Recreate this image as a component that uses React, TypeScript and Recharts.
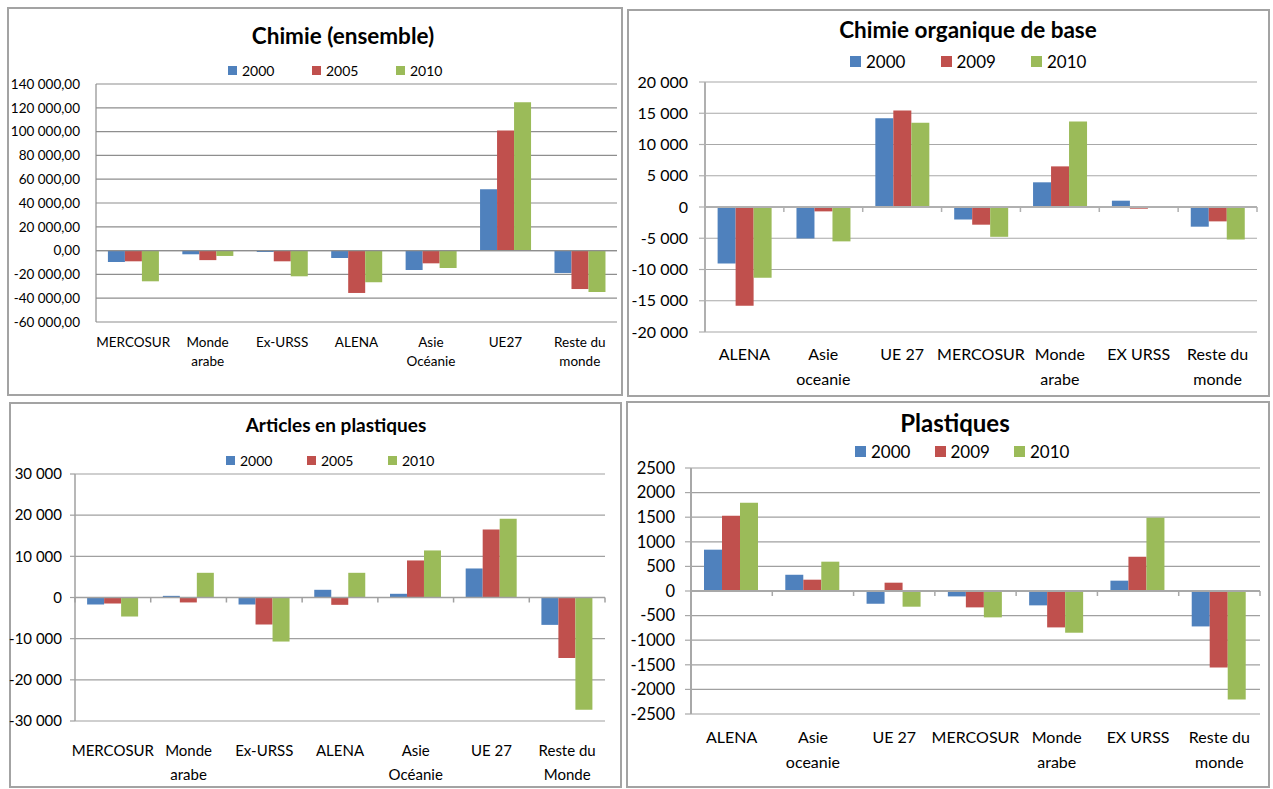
import React from 'react'
import { BarChart, Bar, XAxis, YAxis, CartesianGrid, ReferenceLine } from 'recharts'

const BLUE = '#4F81BD'
const RED = '#C0504D'
const GREEN = '#9BBB59'
const FONT = 'Lato, "Open Sans", sans-serif'

// Chimie (ensemble)
const chimieCats = ['MERCOSUR', 'Monde\narabe', 'Ex-URSS', 'ALENA', 'Asie\nOcéanie', 'UE27', 'Reste du\nmonde']
const chimieYears = ['2000', '2005', '2010']
const chimie2000 = [-9600, -3100, -1200, -6200, -16300, 51500, -18800]
const chimie2005 = [-9000, -8000, -9000, -35600, -10700, 101000, -32300]
const chimie2010 = [-25800, -4500, -21600, -26600, -14600, 124600, -34800]
const chimieTicks = [-60000, -40000, -20000, 0, 20000, 40000, 60000, 80000, 100000, 120000, 140000]

// Chimie organique de base
const orgaCats = ['ALENA', 'Asie\noceanie', 'UE 27', 'MERCOSUR', 'Monde\narabe', 'EX URSS', 'Reste du\nmonde']
const orgaYears = ['2000', '2009', '2010']
const orga2000 = [-9050, -5030, 14200, -2000, 3950, 1010, -3150]
const orga2009 = [-15800, -700, 15450, -2830, 6500, -270, -2300]
const orga2010 = [-11300, -5500, 13500, -4770, 13700, 20, -5200]
const orgaTicks = [-20000, -15000, -10000, -5000, 0, 5000, 10000, 15000, 20000]

// Articles en plastiques
const articlesCats = ['MERCOSUR', 'Monde\narabe', 'Ex-URSS', 'ALENA', 'Asie\nOcéanie', 'UE 27', 'Reste du\nMonde']
const articlesYears = ['2000', '2005', '2010']
const articles2000 = [-1700, 400, -1700, 1870, 900, 7050, -6650]
const articles2005 = [-1460, -1200, -6570, -1780, 9000, 16540, -14670]
const articles2010 = [-4620, 6000, -10700, 6000, 11430, 19130, -27240]
const articlesTicks = [-30000, -20000, -10000, 0, 10000, 20000, 30000]

// Plastiques
const plastCats = ['ALENA', 'Asie\noceanie', 'UE 27', 'MERCOSUR', 'Monde\narabe', 'EX URSS', 'Reste du\nmonde']
const plastYears = ['2000', '2009', '2010']
const plast2000 = [840, 330, -258, -110, -292, 210, -720]
const plast2009 = [1531, 230, 169, -333, -740, 698, -1553]
const plast2010 = [1795, 596, -319, -536, -848, 1490, -2204]
const plastTicks = [-2500, -2000, -1500, -1000, -500, 0, 500, 1000, 1500, 2000, 2500]

const group = (v: number) => {
  const s = String(Math.abs(v)).replace(/\B(?=(\d{3})+(?!\d))/g, ' ')
  return (v < 0 ? '-' : '') + s
}
const fmtDecimals = (v: number) => group(v) + ',00'
const fmtPlain = (v: number) => String(v)

const buildRows = (cats: string[], a: number[], b: number[], c: number[]) =>
  cats.map((name, i) => ({ name, s0: a[i], s1: b[i], s2: c[i] }))

function CatTick(props: any) {
  const { x, y, payload, fontSize, lineHeight, dy } = props
  const lines = String(payload.value).split('\n')
  return (
    <text x={x} y={y} textAnchor="middle" fontSize={fontSize} fontFamily={FONT} fill="#000">
      {lines.map((l, i) => (
        <tspan key={i} x={x} dy={i === 0 ? dy : lineHeight}>{l}</tspan>
      ))}
    </text>
  )
}

function ZeroTicks(props: any) {
  const { viewBox, count, len, color } = props
  if (!viewBox) return null
  const { x, y, width } = viewBox
  const step = width / count
  return (
    <g>
      {Array.from({ length: count + 1 }, (_, i) => (
        <line key={i} x1={x + i * step} x2={x + i * step} y1={y} y2={y + len} stroke={color} strokeWidth={1.5} />
      ))}
    </g>
  )
}

interface PanelProps {
  box: { left: number; top: number; width: number; height: number }
  title: string
  titleSize: number
  titleX: number
  titleY: number
  legendLeft: number
  legendY: number
  legendStep: number
  legendFont: number
  swatch: number
  years: string[]
  rows: any[]
  ticks: number[]
  fmt: (v: number) => string
  margin: { top: number; right: number; left: number; bottom: number }
  yWidth: number
  xHeight: number
  yTickSize: number
  yTickMargin: number
  yTickLine: boolean
  tickFont: number
  catFont: number
  catLine: number
  catDy: number
  gridColor: string
  axisColor: string
  axisWidth: number
  zeroTicks: boolean
}

function Panel(p: PanelProps) {
  const colors = [BLUE, RED, GREEN]
  return (
    <div
      style={{
        position: 'absolute',
        left: p.box.left,
        top: p.box.top,
        width: p.box.width,
        height: p.box.height,
        boxSizing: 'border-box',
        border: '2px solid #a3a3a3',
        background: '#fff',
      }}
    >
      <div style={{ position: 'absolute', left: -2, top: -2 }}>
        <BarChart
          width={p.box.width}
          height={p.box.height}
          data={p.rows}
          margin={p.margin}
          barCategoryGap="16%"
          barGap={0}
        >
          <CartesianGrid vertical={false} stroke={p.gridColor} strokeWidth={1.2} />
          <XAxis
            dataKey="name"
            interval={0}
            height={p.xHeight}
            axisLine={false}
            tickLine={false}
            tickSize={0}
            tickMargin={0}
            tick={(t: any) => <CatTick {...t} fontSize={p.catFont} lineHeight={p.catLine} dy={p.catDy} />}
          />
          <YAxis
            width={p.yWidth}
            domain={[p.ticks[0], p.ticks[p.ticks.length - 1]]}
            ticks={p.ticks}
            interval={0}
            tickFormatter={p.fmt}
            axisLine={{ stroke: p.axisColor, strokeWidth: p.axisWidth }}
            tickLine={p.yTickLine ? { stroke: p.axisColor, strokeWidth: 1.2 } : false}
            tickSize={p.yTickSize}
            tickMargin={p.yTickMargin}
            tick={{ fontSize: p.tickFont, fill: '#000', fontFamily: FONT }}
          />
          <ReferenceLine
            y={0}
            stroke={p.zeroTicks ? p.axisColor : p.gridColor}
            strokeWidth={p.zeroTicks ? p.axisWidth : 1.2}
            label={p.zeroTicks ? <ZeroTicks count={p.rows.length} len={5} color={p.axisColor} /> : undefined}
          />
          {p.years.map((y, i) => (
            <Bar key={y} dataKey={`s${i}`} name={y} fill={colors[i]} isAnimationActive={false} />
          ))}
        </BarChart>
      </div>
      <div
        style={{
          position: 'absolute',
          left: p.titleX - 200 - 2,
          top: p.titleY - 2,
          width: 400,
          textAlign: 'center',
          fontFamily: FONT,
          fontWeight: 700,
          fontSize: p.titleSize,
          lineHeight: '0px',
          color: '#000',
        }}
      >
        {p.title}
      </div>
      {p.years.map((y, i) => (
        <div
          key={y}
          style={{
            position: 'absolute',
            left: p.legendLeft - 2 + i * p.legendStep,
            top: p.legendY - 2 - p.swatch / 2,
            height: p.swatch,
            display: 'flex',
            alignItems: 'center',
            fontFamily: FONT,
            fontSize: p.legendFont,
            color: '#000',
            whiteSpace: 'nowrap',
          }}
        >
          <span style={{ display: 'inline-block', width: p.swatch, height: p.swatch, background: colors[i], marginRight: 5 }} />
          <span>{y}</span>
        </div>
      ))}
    </div>
  )
}

export default function App() {
  return (
    <div style={{ position: 'absolute', left: 0, top: 0, width: 1273, height: 789, background: '#fff', overflow: 'hidden' }}>
      <Panel
        box={{ left: 7, top: 7, width: 616, height: 389 }}
        title="Chimie (ensemble)"
        titleSize={22.5}
        titleX={336}
        titleY={29}
        legendLeft={221}
        legendY={63}
        legendStep={84}
        legendFont={14}
        swatch={9}
        years={chimieYears}
        rows={buildRows(chimieCats, chimie2000, chimie2005, chimie2010)}
        ticks={chimieTicks}
        fmt={fmtDecimals}
        margin={{ top: 77, right: 6, left: 0, bottom: 0 }}
        yWidth={89}
        xHeight={74}
        yTickSize={6}
        yTickMargin={10}
        yTickLine={false}
        tickFont={13.5}
        catFont={13.5}
        catLine={19}
        catDy={25}
        gridColor="#8e8e8e"
        axisColor="#8e8e8e"
        axisWidth={1.2}
        zeroTicks={false}
      />
      <Panel
        box={{ left: 627, top: 9, width: 643, height: 388 }}
        title="Chimie organique de base"
        titleSize={22.5}
        titleX={341}
        titleY={21}
        legendLeft={223}
        legendY={52}
        legendStep={90.5}
        legendFont={17}
        swatch={11}
        years={orgaYears}
        rows={buildRows(orgaCats, orga2000, orga2009, orga2010)}
        ticks={orgaTicks}
        fmt={group}
        margin={{ top: 73, right: 13, left: 0, bottom: 0 }}
        yWidth={78}
        xHeight={65}
        yTickSize={6}
        yTickMargin={11}
        yTickLine={true}
        tickFont={16}
        catFont={16}
        catLine={25}
        catDy={28}
        gridColor="#a8a8a8"
        axisColor="#b0b0b0"
        axisWidth={2}
        zeroTicks={true}
      />
      <Panel
        box={{ left: 9, top: 402, width: 613, height: 386 }}
        title="Articles en plastiques"
        titleSize={19}
        titleX={327}
        titleY={23}
        legendLeft={217}
        legendY={58}
        legendStep={81}
        legendFont={14}
        swatch={9}
        years={articlesYears}
        rows={buildRows(articlesCats, articles2000, articles2005, articles2010)}
        ticks={articlesTicks}
        fmt={group}
        margin={{ top: 72, right: 17, left: 0, bottom: 0 }}
        yWidth={66}
        xHeight={67}
        yTickSize={5}
        yTickMargin={8}
        yTickLine={true}
        tickFont={15}
        catFont={15}
        catLine={24}
        catDy={35}
        gridColor="#a0a0a0"
        axisColor="#a0a0a0"
        axisWidth={1.5}
        zeroTicks={true}
      />
      <Panel
        box={{ left: 626, top: 401, width: 644, height: 387 }}
        title="Plastiques"
        titleSize={24}
        titleX={329}
        titleY={22}
        legendLeft={229}
        legendY={50}
        legendStep={79.5}
        legendFont={17}
        swatch={11}
        years={plastYears}
        rows={buildRows(plastCats, plast2000, plast2009, plast2010)}
        ticks={plastTicks}
        fmt={fmtPlain}
        margin={{ top: 67, right: 10, left: 0, bottom: 0 }}
        yWidth={65}
        xHeight={74}
        yTickSize={6}
        yTickMargin={10}
        yTickLine={true}
        tickFont={16.5}
        catFont={16}
        catLine={25}
        catDy={29}
        gridColor="#a0a0a0"
        axisColor="#a8a8a8"
        axisWidth={2}
        zeroTicks={true}
      />
    </div>
  )
}
